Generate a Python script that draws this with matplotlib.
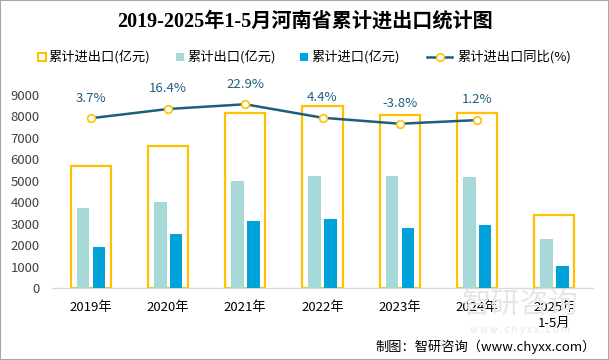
import matplotlib
matplotlib.use('Agg')
import numpy as np
import matplotlib.pyplot as plt
from matplotlib.patches import Rectangle
from matplotlib.lines import Line2D

plt.rcParams['font.family'] = ['Noto Sans CJK SC', 'DejaVu Sans']

# 数据
years = ['2019年', '2020年', '2021年', '2022年', '2023年', '2024年', '2025年\n1-5月']
total = [5670, 6600, 8160, 8480, 8080, 8160, 3400]     # 累计进出口(亿元)
export = [3730, 4010, 5000, 5220, 5220, 5180, 2290]    # 累计出口(亿元)
imports = [1910, 2520, 3125, 3220, 2800, 2940, 1030]   # 累计进口(亿元)
growth = [3.7, 16.4, 22.9, 4.4, -3.8, 1.2]             # 累计进出口同比(%)

gold = '#FFC000'
teal = '#A5D8D6'
blue = '#00A2DA'
lineC = '#1B5E7E'

fig = plt.figure(figsize=(6.09, 3.6), dpi=100)
W, H = 609, 360
ax = fig.add_axes([52 / W, 72 / H, 541 / W, 193 / H])

x = np.arange(len(years))
ax.bar(x, total, width=0.52, facecolor='none', edgecolor=gold, linewidth=1.6, zorder=2)
ax.bar(x - 0.1, export, width=0.165, color=teal, zorder=3)
ax.bar(x + 0.105, imports, width=0.16, color=blue, zorder=3)

ax.set_xlim(-0.5, len(years) - 0.5)
ax.set_ylim(0, 9000)
ax.set_yticks(range(0, 9001, 1000))
ax.set_xticks(x)
ax.set_xticklabels(years, fontsize=9.5, color='#000000', linespacing=1.3)
ax.tick_params(axis='y', length=0, pad=9, labelsize=9.5, labelcolor='#404040')
ax.tick_params(axis='x', length=0, pad=9)
for s in ['top', 'right', 'left']:
    ax.spines[s].set_visible(False)
ax.spines['bottom'].set_color('#d9d9d9')
ax.spines['bottom'].set_linewidth(1.0)

# 同比折线 (次坐标轴, 隐藏)
ax2 = ax.twinx()
ax2.set_ylim(-229, 35.6)
ax2.axis('off')
ax2.plot(x[:len(growth)], growth, color=lineC, lw=1.8, marker='o', mfc='white',
         mec=gold, ms=5.5, mew=1.2, zorder=5, clip_on=False)
for xi, g in zip(x, growth):
    ax2.annotate('%.1f%%' % g, (xi, g), xytext=(0, 14.5), textcoords='offset points',
                 ha='center', va='center', fontsize=9.5, color='#1F5F80')

# 标题
fig.text(0.5, 1 - 22 / H, '2019-2025年1-5月河南省累计进出口统计图', ha='center', va='center',
         fontsize=14.5, fontweight='bold', family=['Liberation Serif', 'Noto Sans CJK SC'])

# 图例
ly = 1 - 57 / H
sq = 8
fig.patches.append(Rectangle(((42 - sq / 2) / W, ly - sq / 2 / H), sq / W, sq / H, fill=False,
                             edgecolor=gold, lw=1.5, transform=fig.transFigure))
fig.text(48 / W, ly, '累计进出口(亿元)', va='center', fontsize=9.5)
fig.patches.append(Rectangle(((180 - sq / 2) / W, ly - sq / 2 / H), sq / W, sq / H,
                             facecolor=teal, edgecolor='none', transform=fig.transFigure))
fig.text(187 / W, ly, '累计出口(亿元)', va='center', fontsize=9.5)
fig.patches.append(Rectangle(((304 - sq / 2) / W, ly - sq / 2 / H), sq / W, sq / H,
                             facecolor=blue, edgecolor='none', transform=fig.transFigure))
fig.text(311 / W, ly, '累计进口(亿元)', va='center', fontsize=9.5)
fig.lines.append(Line2D([427 / W, 452 / W], [ly, ly], color=lineC, lw=1.8, transform=fig.transFigure))
fig.lines.append(Line2D([440 / W], [ly], marker='o', mfc='white', mec=gold, ms=5.5, mew=1.2,
                        transform=fig.transFigure))
fig.text(457 / W, ly, '累计进出口同比(%)', va='center', fontsize=9.5)

# 水印
fig.text(520 / W, 1 - 305 / H, '智研咨询', ha='center', va='center', fontsize=21,
         color='#e6e6e6', zorder=0)
fig.text(520 / W, 1 - 330 / H, 'w w w . c h y x x . c o m', ha='center', va='center',
         fontsize=7, color='#e6e6e6', zorder=0)

# 来源
fig.text(596 / W, 1 - 347 / H, '制图：智研咨询（www.chyxx.com）', ha='right', va='center', fontsize=9.5)

# 外框
fig.patches.append(Rectangle((0, 0), 1, 1, fill=False, edgecolor='#a6a6a6', lw=1.5,
                             transform=fig.transFigure))

fig.savefig('out.png', dpi=100)
